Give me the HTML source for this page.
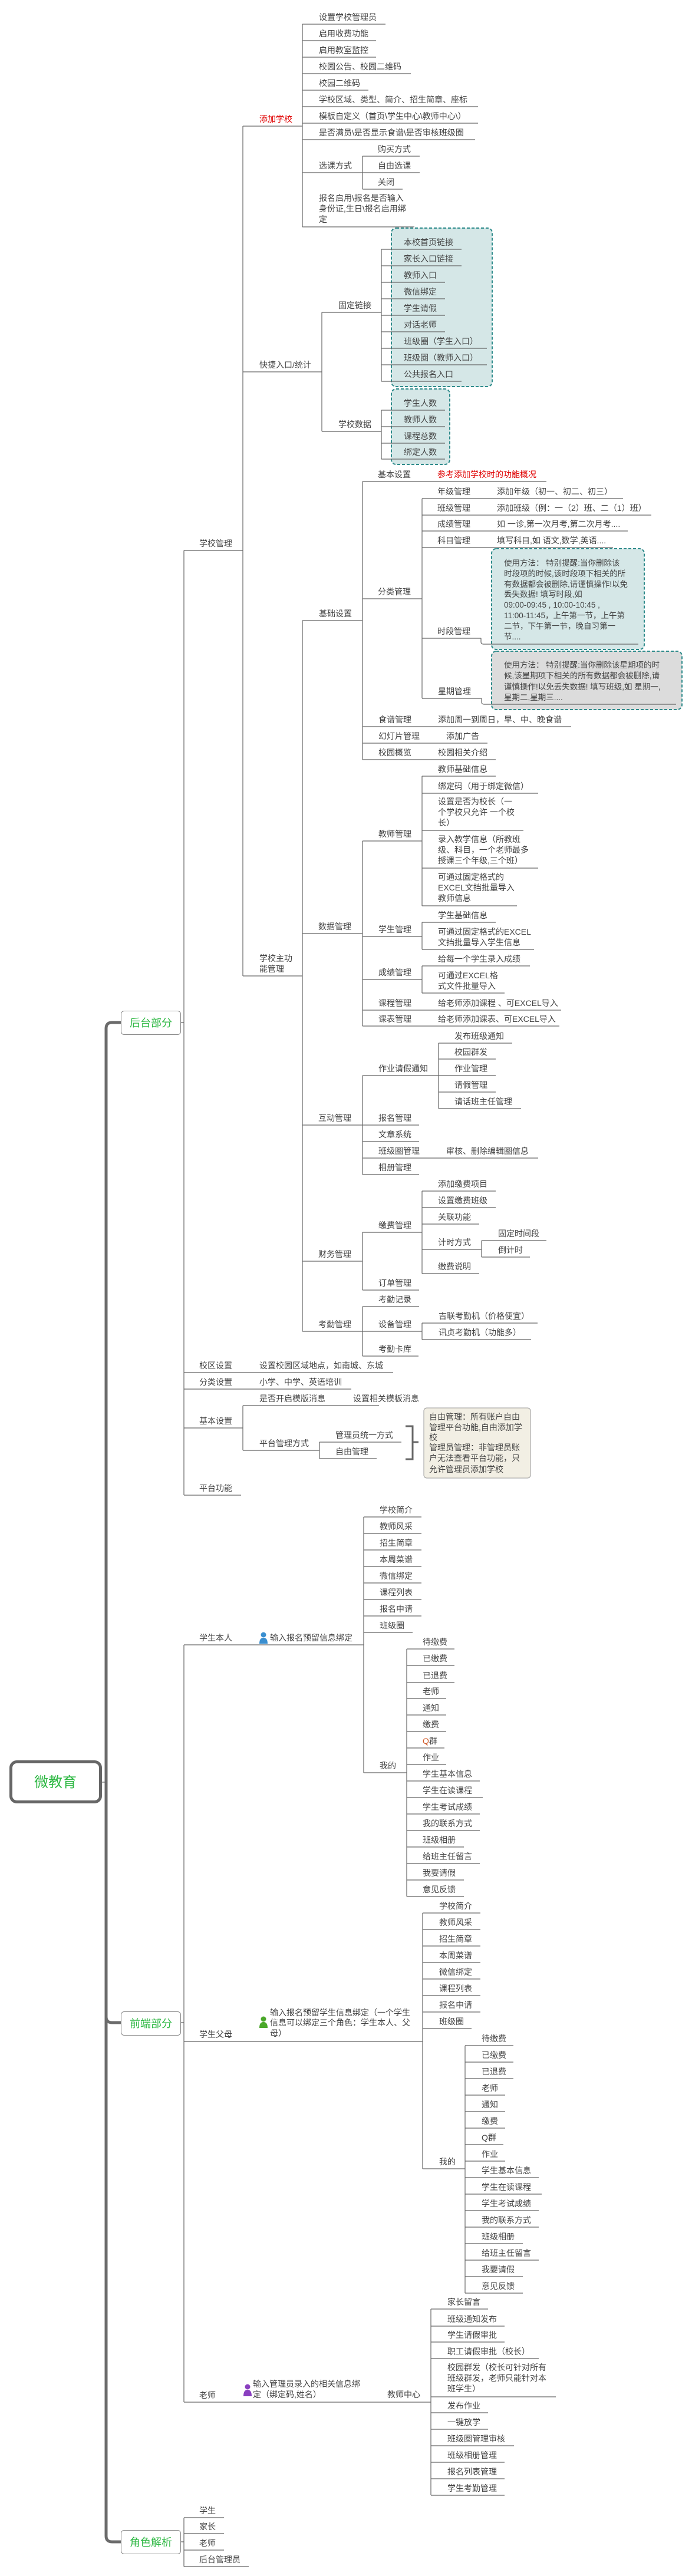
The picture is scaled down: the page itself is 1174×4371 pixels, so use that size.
<!DOCTYPE html>
<html><head><meta charset="utf-8"><style>
html,body{margin:0;padding:0;background:#fff;}
svg{display:block;}
text{font-family:"Liberation Sans","Noto Sans CJK SC",sans-serif;font-size:14px;fill:#444;}
.n{font-size:13.5px;}
.r{fill:#e00000;}
.g{fill:#2fb844;font-size:18px;}
.l{stroke:#666;stroke-width:1.2;fill:none;}
</style></head><body>
<svg width="1174" height="4371" viewBox="0 0 1174 4371" xmlns="http://www.w3.org/2000/svg">
<rect x="664" y="387" width="171" height="269" rx="8" fill="#d5e7e7" stroke="#2e8b8b" stroke-width="2" stroke-dasharray="5,3"/>
<rect x="664" y="660" width="99" height="128" rx="8" fill="#d5e7e7" stroke="#2e8b8b" stroke-width="2" stroke-dasharray="5,3"/>
<rect x="834" y="931" width="259" height="171" rx="8" fill="#d5e7e7" stroke="#2e8b8b" stroke-width="2" stroke-dasharray="5,3"/>
<rect x="834" y="1105" width="323" height="99" rx="8" fill="#dcdcdc" stroke="#2e8b8b" stroke-width="2" stroke-dasharray="5,3"/>
<rect x="719" y="2389" width="181" height="119" rx="5" fill="#f2efe4" stroke="#999" stroke-width="1"/>

<path d="M205 1735 H190 Q180 1735 180 1745 V4303 Q180 4313 190 4313 H205" stroke="#6b6b6b" stroke-width="5" fill="none"/>
<path d="M180 3422 Q180 3432 190 3432 H205" stroke="#6b6b6b" stroke-width="5" fill="none"/>
<path d="M172 3024 H180" class="l"/>
<rect x="18.5" y="2989.5" width="152" height="68" rx="10" fill="#fff" stroke="#666" stroke-width="5"/>
<text x="94" y="3032" text-anchor="middle" style="font-size:24px;fill:#2fb844">微教育</text>
<rect x="205.5" y="1715.5" width="101" height="40" rx="5" fill="#fff" stroke="#888"/>
<text x="256" y="1742" text-anchor="middle" class="g">后台部分</text>
<rect x="205.5" y="3413.5" width="101" height="40" rx="5" fill="#fff" stroke="#888"/>
<text x="256" y="3440" text-anchor="middle" class="g">前端部分</text>
<rect x="205.5" y="4293.5" width="101" height="40" rx="5" fill="#fff" stroke="#888"/>
<text x="256" y="4320" text-anchor="middle" class="g">角色解析</text>

<path class="l" d="
M307 1735H312 M312 934V2537
M312 934H412 M312 2329H667 M312 2357H596 M312 2423H412 M312 2537H409
M412 214V1656 M412 214H513 M412 631H546 M412 1656H513
M513 41V385
M513 41H654 M513 69H638 M513 97H638 M513 125H697 M513 153H625 M513 181H811 M513 209H811 M513 237H806 M513 293H615 M513 385H703
M615 265V321 M615 265H712 M615 293H712 M615 321H683
M546 530V732 M546 530H647 M546 732H647
M647 423V647 M647 423H783 M647 451H783 M647 479H755 M647 507H755 M647 535H755 M647 563H755 M647 591H826 M647 619H826 M647 647H783
M647 696V779 M647 696H755 M647 724H755 M647 752H755 M647 779H755
M513 1053V2259 M513 1053H615 M513 1584H615 M513 1909H615 M513 2140H615 M513 2259H615
M615 817V1289 M615 817H927 M615 1016H716 M615 1233H969 M615 1261H827 M615 1289H841
M716 846V1185 M716 846H1057 M716 874H1105 M716 901H1065 M716 929H1040 M716 1083H816 M716 1185H817
M816 1083V1089 Q816 1093 820 1093 H1083
M817 1185V1191 Q817 1195 821 1195 H1147
M615 1427V1741 M615 1427H716 M615 1589H716 M615 1662H716 M615 1714H952 M615 1741H949
M716 1317V1537 M716 1317H841 M716 1346H913 M716 1409H888 M716 1473H913 M716 1537H877
M716 1565V1611 M716 1565H841 M716 1611H906
M716 1639V1685 M716 1639H899 M716 1685H856
M615 1825V1993 M615 1825H744 M615 1909H711 M615 1937H711 M615 1965H913 M615 1993H711
M744 1770V1881 M744 1770H869 M744 1797H841 M744 1825H841 M744 1853H841 M744 1881H884
M615 2091V2189 M615 2091H716 M615 2189H711
M716 2021V2161 M716 2021H841 M716 2049H841 M716 2077H813 M716 2120H817 M716 2161H813
M817 2105V2133 M817 2105H927 M817 2133H899
M615 2217V2301 M615 2217H711 M615 2259H716 M615 2301H710
M716 2245V2273 M716 2245H912 M716 2273H901
M412 2385V2461 M412 2385H643 M412 2461H542
M542 2447V2475 M542 2447H681 M542 2475H639
M307 3432H312 M312 2791V4076
M312 2791H617 M617 2574V3008
M617 2574H715 M617 2602H715 M617 2630H715 M617 2658H715 M617 2686H715 M617 2714H715 M617 2742H715 M617 2770H700 M617 3008H690
M690 2798V3218
M690 2798H771 M690 2826H771 M690 2855H771 M690 2882H757 M690 2910H757 M690 2938H757 M690 2966H754 M690 2994H757 M690 3022H814 M690 3050H819 M690 3078H814 M690 3106H814 M690 3134H787 M690 3162H814 M690 3190H787 M690 3218H787
M312 3464H717 M717 3246V3680
M717 3246H815 M717 3274H815 M717 3302H815 M717 3330H815 M717 3358H815 M717 3386H815 M717 3414H815 M717 3442H800 M717 3680H789
M789 3471V3891
M789 3471H871 M789 3499H871 M789 3527H871 M789 3555H857 M789 3583H857 M789 3611H857 M789 3639H854 M789 3667H857 M789 3695H914 M789 3723H919 M789 3751H914 M789 3779H914 M789 3807H887 M789 3835H914 M789 3863H887 M789 3891H887
M312 4076H731 M731 3918V4234
M731 3918H828 M731 3947H856 M731 3974H856 M731 4002H914 M731 4067H943 M731 4094H828 M731 4122H828 M731 4150H872 M731 4178H856 M731 4206H856 M731 4234H856
M307 4313H312 M312 4272V4355 M312 4272H380 M312 4299H380 M312 4327H380 M312 4355H422
"/>
<path d="M688 2420H700V2476H688 M700 2447H710" stroke="#666" stroke-width="3" fill="none"/>

<text x="338" y="927">学校管理</text>
<text x="338" y="2322">校区设置</text><text x="440" y="2322">设置校园区域地点，如南城、东城</text>
<text x="338" y="2350">分类设置</text><text x="440" y="2350">小学、中学、英语培训</text>
<text x="338" y="2416">基本设置</text>
<text x="338" y="2530">平台功能</text>

<text x="440" y="207" class="r">添加学校</text>
<text x="440" y="624">快捷入口/统计</text>
<text x="440" y="1631">学校主功</text>
<text x="440" y="1649">能管理</text>

<text x="541" y="34">设置学校管理员</text>
<text x="541" y="62">启用收费功能</text>
<text x="541" y="90">启用教室监控</text>
<text x="541" y="118">校园公告、校园二维码</text>
<text x="541" y="146">校园二维码</text>
<text x="541" y="174">学校区域、类型、简介、招生简章、座标</text>
<text x="541" y="202">模板自定义（首页\学生中心\教师中心\）</text>
<text x="541" y="230">是否满员\是否显示食谱\是否审核班级圈</text>
<text x="541" y="286">选课方式</text>
<text x="641" y="258">购买方式</text>
<text x="641" y="286">自由选课</text>
<text x="641" y="314">关闭</text>
<text x="541" y="341">报名启用\报名是否输入</text>
<text x="541" y="359">身份证,生日\报名启用绑</text>
<text x="541" y="377">定</text>

<text x="574" y="523">固定链接</text>
<text x="685" y="416">本校首页链接</text>
<text x="685" y="444">家长入口链接</text>
<text x="685" y="472">教师入口</text>
<text x="685" y="500">微信绑定</text>
<text x="685" y="528">学生请假</text>
<text x="685" y="556">对话老师</text>
<text x="685" y="584">班级圈（学生入口）</text>
<text x="685" y="612">班级圈（教师入口）</text>
<text x="685" y="640">公共报名入口</text>
<text x="574" y="725">学校数据</text>
<text x="685" y="689">学生人数</text>
<text x="685" y="717">教师人数</text>
<text x="685" y="745">课程总数</text>
<text x="685" y="772">绑定人数</text>

<text x="541" y="1046">基础设置</text>
<text x="641" y="810">基本设置</text><text x="742" y="810" class="r">参考添加学校时的功能概况</text>
<text x="641" y="1009">分类管理</text>
<text x="742" y="839">年级管理</text><text x="843" y="839">添加年级（初一、初二、初三）</text>
<text x="742" y="867">班级管理</text><text x="843" y="867">添加班级（例：一（2）班、二（1）班）</text>
<text x="742" y="894">成绩管理</text><text x="843" y="894">如 一诊,第一次月考,第二次月考....</text>
<text x="742" y="922">科目管理</text><text x="843" y="922">填写科目,如 语文,数学,英语....</text>
<text x="742" y="1076">时段管理</text>
<text x="855" y="960" class="n">使用方法： 特别提醒:当你删除该</text>
<text x="855" y="978" class="n">时段项的时候,该时段项下相关的所</text>
<text x="855" y="996" class="n">有数据都会被删除,请谨慎操作!以免</text>
<text x="855" y="1013" class="n">丢失数据! 填写时段,如</text>
<text x="855" y="1031" class="n">09:00-09:45 , 10:00-10:45 ,</text>
<text x="855" y="1049" class="n">11:00-11:45，上午第一节，上午第</text>
<text x="855" y="1067" class="n">二节，下午第一节，晚自习第一</text>
<text x="855" y="1085" class="n">节....</text>
<text x="743" y="1178">星期管理</text>
<text x="855" y="1133" class="n">使用方法： 特别提醒:当你删除该星期项的时</text>
<text x="855" y="1151" class="n">候,该星期项下相关的所有数据都会被删除,请</text>
<text x="855" y="1170" class="n">谨慎操作!以免丢失数据! 填写班级,如 星期一,</text>
<text x="855" y="1188" class="n">星期二,星期三....</text>
<text x="642" y="1226">食谱管理</text><text x="743" y="1226">添加周一到周日，早、中、晚食谱</text>
<text x="642" y="1254">幻灯片管理</text><text x="757" y="1254">添加广告</text>
<text x="642" y="1282">校园概览</text><text x="743" y="1282">校园相关介绍</text>

<text x="540" y="1577">数据管理</text>
<text x="642" y="1420">教师管理</text>
<text x="743" y="1310">教师基础信息</text>
<text x="743" y="1339">绑定码（用于绑定微信）</text>
<text x="743" y="1365">设置是否为校长（一</text>
<text x="743" y="1383">个学校只允许 一个校</text>
<text x="743" y="1401">长）</text>
<text x="743" y="1429">录入教学信息（所教班</text>
<text x="743" y="1447">级、科目，一个老师最多</text>
<text x="743" y="1465">授课三个年级,三个班）</text>
<text x="743" y="1493">可通过固定格式的</text>
<text x="743" y="1511">EXCEL文挡批量导入</text>
<text x="743" y="1529">教师信息</text>
<text x="642" y="1582">学生管理</text>
<text x="743" y="1558">学生基础信息</text>
<text x="743" y="1586">可通过固定格式的EXCEL</text>
<text x="743" y="1604">文挡批量导入学生信息</text>
<text x="642" y="1655">成绩管理</text>
<text x="743" y="1632">给每一个学生录入成绩</text>
<text x="743" y="1660">可通过EXCEL格</text>
<text x="743" y="1678">式文件批量导入</text>
<text x="642" y="1707">课程管理</text><text x="743" y="1707">给老师添加课程 、可EXCEL导入</text>
<text x="642" y="1734">课表管理</text><text x="743" y="1734">给老师添加课表、可EXCEL导入</text>

<text x="540" y="1902">互动管理</text>
<text x="642" y="1818">作业请假通知</text>
<text x="771" y="1763">发布班级通知</text>
<text x="771" y="1790">校园群发</text>
<text x="771" y="1818">作业管理</text>
<text x="771" y="1846">请假管理</text>
<text x="771" y="1874">请话班主任管理</text>
<text x="642" y="1902">报名管理</text>
<text x="642" y="1930">文章系统</text>
<text x="642" y="1958">班级圈管理</text><text x="757" y="1958">审核、删除编辑圈信息</text>
<text x="642" y="1986">相册管理</text>

<text x="540" y="2133">财务管理</text>
<text x="642" y="2084">缴费管理</text>
<text x="743" y="2014">添加缴费项目</text>
<text x="743" y="2042">设置缴费班级</text>
<text x="743" y="2070">关联功能</text>
<text x="743" y="2113">计时方式</text>
<text x="845" y="2098">固定时间段</text>
<text x="845" y="2126">倒计时</text>
<text x="743" y="2154">缴费说明</text>
<text x="642" y="2182">订单管理</text>

<text x="540" y="2252">考勤管理</text>
<text x="642" y="2210">考勤记录</text>
<text x="642" y="2252">设备管理</text>
<text x="744" y="2238">吉联考勤机（价格便宜）</text>
<text x="744" y="2266">讯贞考勤机（功能多）</text>
<text x="642" y="2294">考勤卡库</text>

<text x="440" y="2378">是否开启模版消息</text><text x="599" y="2378">设置相关模板消息</text>
<text x="440" y="2454">平台管理方式</text>
<text x="569" y="2440">管理员统一方式</text>
<text x="569" y="2468">自由管理</text>
<text x="728" y="2409">自由管理：所有账户自由</text>
<text x="728" y="2427">管理平台功能,自由添加学</text>
<text x="728" y="2444">校</text>
<text x="728" y="2461">管理员管理：非管理员账</text>
<text x="728" y="2479">户无法查看平台功能，只</text>
<text x="728" y="2498">允许管理员添加学校</text>

<text x="338" y="2784">学生本人</text>
<g fill="#3a8fd0"><circle cx="447" cy="2774" r="4.5"/><path d="M440 2789 Q440 2779 447 2779 Q454 2779 454 2789 Z"/></g>
<text x="458" y="2784">输入报名预留信息绑定</text>
<text x="644" y="2567">学校简介</text>
<text x="644" y="2595">教师风采</text>
<text x="644" y="2623">招生简章</text>
<text x="644" y="2651">本周菜谱</text>
<text x="644" y="2679">微信绑定</text>
<text x="644" y="2707">课程列表</text>
<text x="644" y="2735">报名申请</text>
<text x="644" y="2763">班级圈</text>
<text x="644" y="3001">我的</text>
<text x="717" y="2791">待缴费</text>
<text x="717" y="2819">已缴费</text>
<text x="717" y="2848">已退费</text>
<text x="717" y="2875">老师</text>
<text x="717" y="2903">通知</text>
<text x="717" y="2931">缴费</text>
<text x="717" y="2959"><tspan style="fill:#d05a2a">Q</tspan>群</text>
<text x="717" y="2987">作业</text>
<text x="717" y="3015">学生基本信息</text>
<text x="717" y="3043">学生在读课程</text>
<text x="717" y="3071">学生考试成绩</text>
<text x="717" y="3099">我的联系方式</text>
<text x="717" y="3127">班级相册</text>
<text x="717" y="3155">给班主任留言</text>
<text x="717" y="3183">我要请假</text>
<text x="717" y="3211">意见反馈</text>

<text x="338" y="3457">学生父母</text>
<g fill="#4aa82a"><circle cx="447" cy="3426" r="4.5"/><path d="M440 3441 Q440 3431 447 3431 Q454 3431 454 3441 Z"/></g>
<text x="458" y="3420">输入报名预留学生信息绑定（一个学生</text>
<text x="458" y="3437">信息可以绑定三个角色：学生本人、父</text>
<text x="458" y="3455">母）</text>
<text x="745" y="3239">学校简介</text>
<text x="745" y="3267">教师风采</text>
<text x="745" y="3295">招生简章</text>
<text x="745" y="3323">本周菜谱</text>
<text x="745" y="3351">微信绑定</text>
<text x="745" y="3379">课程列表</text>
<text x="745" y="3407">报名申请</text>
<text x="745" y="3435">班级圈</text>
<text x="745" y="3673">我的</text>
<text x="817" y="3464">待缴费</text>
<text x="817" y="3492">已缴费</text>
<text x="817" y="3520">已退费</text>
<text x="817" y="3548">老师</text>
<text x="817" y="3576">通知</text>
<text x="817" y="3604">缴费</text>
<text x="817" y="3632">Q群</text>
<text x="817" y="3660">作业</text>
<text x="817" y="3688">学生基本信息</text>
<text x="817" y="3716">学生在读课程</text>
<text x="817" y="3744">学生考试成绩</text>
<text x="817" y="3772">我的联系方式</text>
<text x="817" y="3800">班级相册</text>
<text x="817" y="3828">给班主任留言</text>
<text x="817" y="3856">我要请假</text>
<text x="817" y="3884">意见反馈</text>

<text x="338" y="4069">老师</text>
<g fill="#8a3fc0"><circle cx="420" cy="4050" r="4.5"/><path d="M413 4066 Q413 4055 420 4055 Q427 4055 427 4066 Z"/></g>
<text x="429" y="4050">输入管理员录入的相关信息绑</text>
<text x="429" y="4068">定（绑定码,姓名）</text>
<text x="657" y="4068">教师中心</text>
<text x="759" y="3911">家长留言</text>
<text x="759" y="3940">班级通知发布</text>
<text x="759" y="3967">学生请假审批</text>
<text x="759" y="3995">职工请假审批（校长）</text>
<text x="759" y="4022">校园群发（校长可针对所有</text>
<text x="759" y="4040">班级群发，老师只能针对本</text>
<text x="759" y="4058">班学生）</text>
<text x="759" y="4087">发布作业</text>
<text x="759" y="4115">一键放学</text>
<text x="759" y="4143">班级圈管理审核</text>
<text x="759" y="4171">班级相册管理</text>
<text x="759" y="4199">报名列表管理</text>
<text x="759" y="4227">学生考勤管理</text>

<text x="338" y="4265">学生</text>
<text x="338" y="4292">家长</text>
<text x="338" y="4320">老师</text>
<text x="338" y="4348">后台管理员</text>
</svg>
</body></html>
